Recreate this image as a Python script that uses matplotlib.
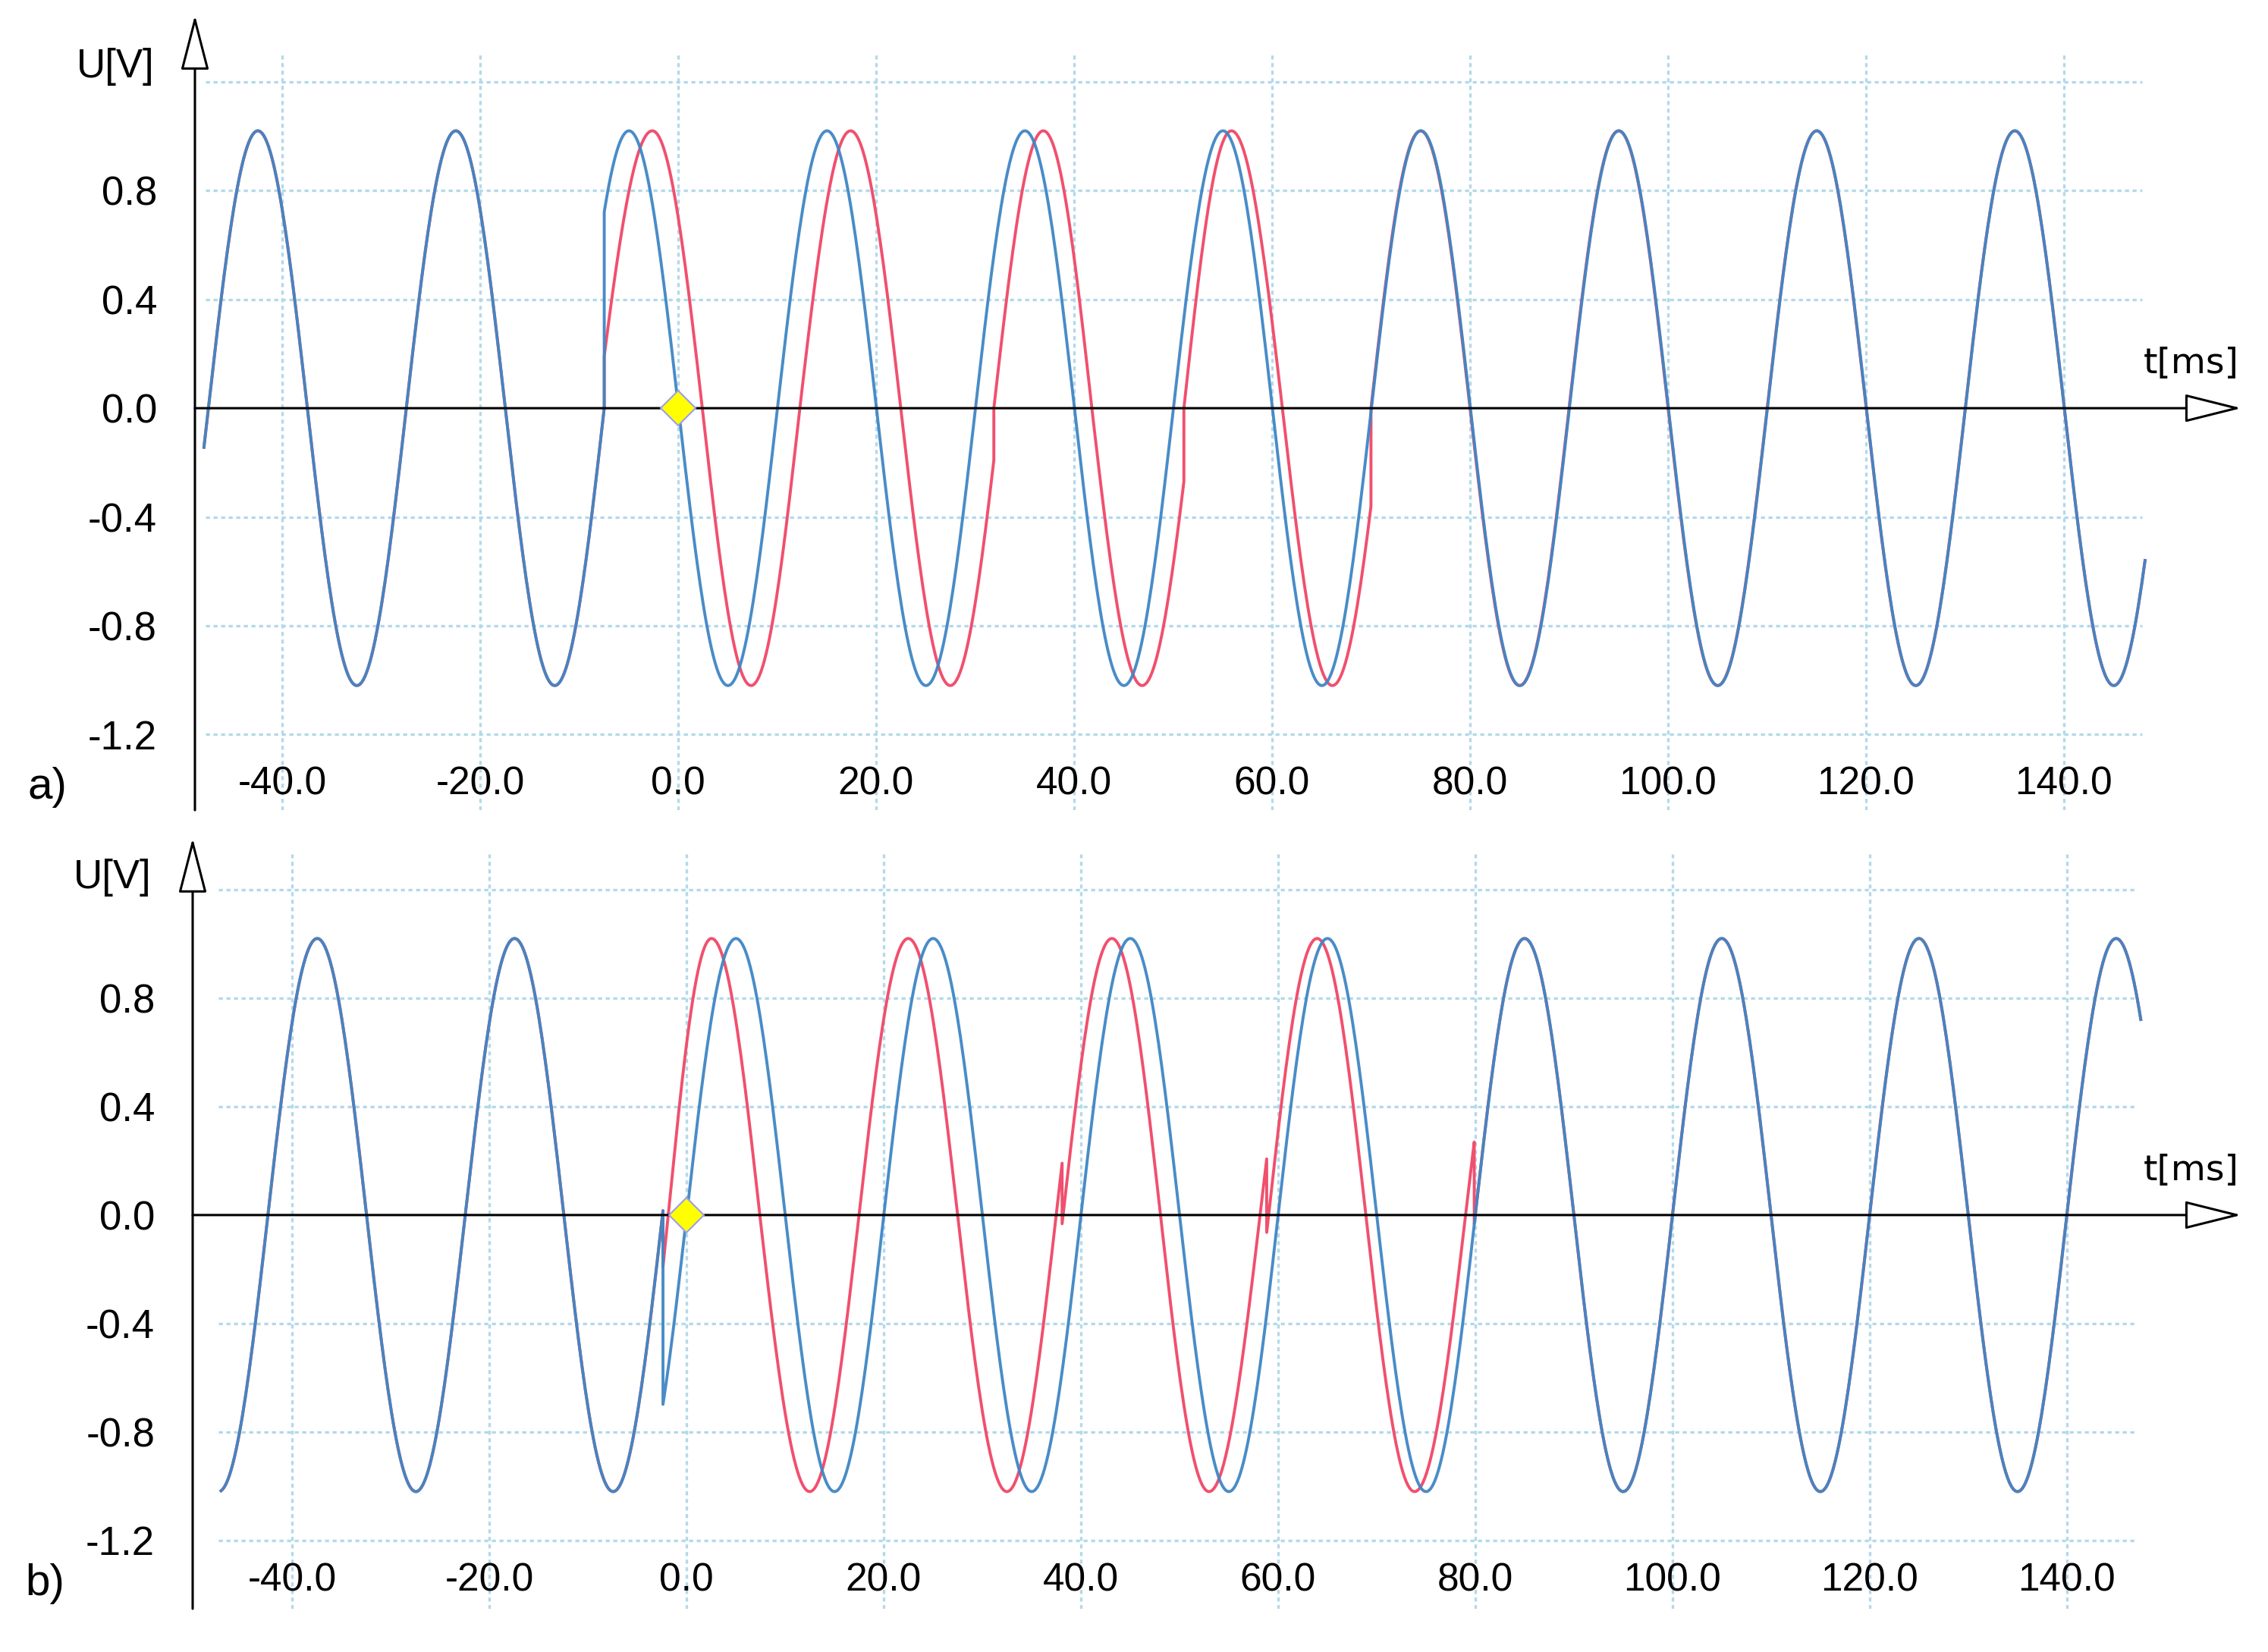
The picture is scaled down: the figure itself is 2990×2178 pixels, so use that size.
import matplotlib
matplotlib.use("Agg")
import matplotlib.pyplot as plt
import numpy as np

plt.rcParams['font.family'] = ['Liberation Sans', 'DejaVu Sans']

# peak voltage of both traces [V]
AMP = 1.02

# Phase keypoints: time [ms] and phase in quarter periods
# (0 = rising zero, 1 = peak, 2 = falling zero, 3 = trough, 4 = next rising zero ...).
# A time that appears twice means the trace jumps at that moment.
red_a_t = [-47.9, -7.46, -7.46, -2.6, 2.45, 12.3, 17.43, 22.5, 31.9, 31.9,
           36.9, 41.8, 51.1, 51.1, 55.9, 61.05, 70.0, 70.0, 148.2]
red_a_q = [-8.09, 0.0, 0.12, 1.0, 2.0, 4.0, 5.0, 6.0, 7.88, 8.0,
           9.0, 10.0, 11.83, 12.0, 13.0, 14.0, 15.77, 16.0, 31.63]
blue_a_t = [-47.9, -7.46, -7.46, 148.2]
blue_a_q = [-8.09, 0.0, 0.50, 31.63]

red_b_t = [-47.2, -2.38, -2.38, 2.54, 7.44, 12.5, 17.5, 22.5, 32.5, 38.1, 38.1,
           43.15, 53.0, 58.85, 58.85, 63.96, 73.85, 79.9, 79.9, 147.5]
red_b_q = [-8.95, 0.01, -0.12, 1.0, 2.0, 3.0, 4.0, 5.0, 7.0, 8.12, 7.98,
           9.0, 11.0, 12.13, 11.96, 13.0, 15.0, 16.17, 15.98, 29.5]
blue_b_t = [-47.2, -2.38, -2.38, 147.5]
blue_b_q = [-8.95, 0.01, -0.48, 29.5]

# trigger marker (yellow diamond)
marker_t = [0.0]
marker_u = [0.0]

# axes ticks / labels
x_ticks = [-40, -20, 0, 20, 40, 60, 80, 100, 120, 140]
x_labels = ['%.1f' % v for v in x_ticks]
y_ticks = [0.8, 0.4, 0.0, -0.4, -0.8, -1.2]
y_labels = ['0.8', '0.4', '0.0', '-0.4', '-0.8', '-1.2']
y_grid = [1.2, 0.8, 0.4, -0.4, -0.8, -1.2]

RED = '#f0506e'
BLUE = '#3f86c4'
GRID = '#b3d9ea'


def trace(kt, kq):
    t_all, q_all = [], []
    for i in range(len(kt) - 1):
        if kt[i] == kt[i + 1]:
            t_all += [kt[i], kt[i + 1]]
            q_all += [kq[i], kq[i + 1]]
        else:
            n = max(int((kt[i + 1] - kt[i]) * 6), 8)
            t_all += list(np.linspace(kt[i], kt[i + 1], n))
            q_all += list(np.linspace(kq[i], kq[i + 1], n))
    t_all = np.array(t_all)
    return t_all, AMP * np.sin(np.array(q_all) * np.pi / 2)


fig = plt.figure(figsize=(29.9, 21.78), dpi=100)

panels = [
    dict(rect=[0.08595, 0.5096, 0.9023, 0.4812], xlim=(-48.81, 157.93), ylim=(-1.478, 1.445),
         hx=(-47.7, 147.9), vtop=1.30, xl_y=0.033, u_y=0.935,
         red=(red_a_t, red_a_q), blue=(blue_a_t, blue_a_q), tag='a)'),
    dict(rect=[0.08495, 0.02617, 0.9033, 0.4665], xlim=(-50.08, 157.7), ylim=(-1.452, 1.39),
         hx=(-47.5, 147.2), vtop=1.33, xl_y=0.036, u_y=0.949,
         red=(red_b_t, red_b_q), blue=(blue_b_t, blue_b_q), tag='b)'),
]

for p in panels:
    ax = fig.add_axes(p['rect'])
    ax.set_xlim(*p['xlim'])
    ax.set_ylim(*p['ylim'])
    for s in ax.spines.values():
        s.set_visible(False)

    # dotted grid
    ax.hlines(y_grid, p['hx'][0], p['hx'][1], colors=GRID, linestyles=(0, (1.6, 1.4)),
              lw=2.4, zorder=1)
    ax.vlines(x_ticks, p['ylim'][0], p['vtop'], colors=GRID, linestyles=(0, (1.6, 1.4)),
              lw=2.4, zorder=1)

    # traces
    tr, ur = trace(*p['red'])
    tb, ub = trace(*p['blue'])
    ax.plot(tr, ur, color=RED, lw=2.8, zorder=3)
    ax.plot(tb, ub, color=BLUE, lw=2.8, alpha=0.95, zorder=4)

    # axes with hollow arrow heads
    arrow = dict(arrowstyle='-|>,head_length=3.3,head_width=0.85', mutation_scale=14,
                 fc='white', ec='black', lw=2.2, shrinkA=0, shrinkB=0)
    ax.annotate('', xy=(0, 1), xytext=(0, 0), xycoords='axes fraction',
                textcoords='axes fraction', arrowprops=arrow, zorder=5)
    arrow_h = dict(arrow, arrowstyle='-|>,head_length=3.4,head_width=0.85')
    ax.annotate('', xy=(1, 0), xytext=(0, 0), xycoords=('axes fraction', 'data'),
                textcoords=('axes fraction', 'data'), arrowprops=arrow_h, zorder=5)

    ax.plot(marker_t, marker_u, marker='D', ms=23, mfc='#ffff00', mec='#9c9cf0',
            mew=1.5, ls='none', zorder=6)

    # ticks
    ax.set_xticks([])
    ax.set_yticks(y_ticks, y_labels)
    ax.tick_params(axis='y', length=0, pad=36, labelsize=38)
    for v, lab in zip(x_ticks, x_labels):
        ax.text(v, p['xl_y'], lab, transform=ax.get_xaxis_transform(),
                ha='center', va='center', fontsize=37)

    ax.text(-0.039, p['u_y'], 'U[V]', transform=ax.transAxes, ha='center',
            va='center', fontsize=38)
    ax.annotate('t[ms]', xy=(1, 0), xycoords=('axes fraction', 'data'),
                xytext=(-2, 42), textcoords='offset points', ha='right',
                va='center', fontsize=34, family='DejaVu Sans')
    ax.text(-0.072, p['xl_y'] - 0.004, p['tag'], transform=ax.transAxes, ha='center',
            va='center', fontsize=42)

fig.savefig('out.png', dpi=100)
